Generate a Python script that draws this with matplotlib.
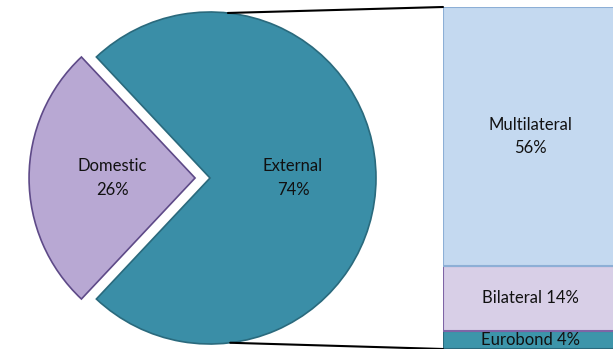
import numpy as np
import matplotlib.pyplot as plt
from matplotlib.patches import ConnectionPatch

# pie data
pie_names = ["Domestic", "External"]
pie_values = [26, 74]

# breakdown of external debt (bar), bottom to top
bar_names = ["Eurobond", "Bilateral", "Multilateral"]
bar_values = [4, 14, 56]

pie_colors = ["#B8A8D3", "#3A8EA7"]
pie_edges = ["#5E4A88", "#2A6A7D"]
bar_colors = ["#3D95AA", "#D8CFE7", "#C4D9F0"]
bar_edges = ["#2A6A7D", "#7E65A6", "#8DAFD6"]

plt.rcParams['font.family'] = ['Lato', 'DejaVu Sans']

W, H = 613, 349
fig = plt.figure(figsize=(W / 100, H / 100), dpi=100)

# pie axes: radius 1 == 166 px, centre at (210, 178) px from top-left
r_px = 166
cx, cy = 210, 178
lim = 1.1
ax_pie = fig.add_axes([(cx - lim * r_px) / W, (H - cy - lim * r_px) / H,
                       2 * lim * r_px / W, 2 * lim * r_px / H])
span0 = pie_values[0] / sum(pie_values) * 360
wedges, texts = ax_pie.pie(
    pie_values,
    labels=[f"{n}\n{v}%" for n, v in zip(pie_names, pie_values)],
    colors=pie_colors,
    explode=[0.09, 0],
    startangle=180 - span0 / 2,
    labeldistance=0.5,
    wedgeprops=dict(linewidth=1.2),
    textprops=dict(ha='center', va='center', fontsize=12, color='#111111',
                   linespacing=1.55),
)
for w, ec in zip(wedges, pie_edges):
    w.set_edgecolor(ec)
for t in texts:
    t.set_multialignment('center')
ax_pie.set_xlim(-lim, lim)
ax_pie.set_ylim(-lim, lim)
ax_pie.set_aspect('equal')
ax_pie.axis('off')

# bar axes
bar_left, bar_top = 443, 7
ax_bar = fig.add_axes([bar_left / W, 0, 175 / W, (H - bar_top) / H])
bottom = 0
for name, val, c, ec in zip(bar_names, bar_values, bar_colors, bar_edges):
    ax_bar.bar(0, val, bottom=bottom, width=1, color=c, edgecolor=ec, linewidth=1.5)
    label = f"{name}\n{val}%" if val > 30 else f"{name} {val}%"
    ax_bar.text(0, bottom + val / 2, label, ha='center', va='center', fontsize=12,
                color='#111111', multialignment='center', linespacing=1.55)
    bottom += val
ax_bar.set_xlim(-0.5, 0.5)
ax_bar.set_ylim(0, sum(bar_values))
ax_bar.axis('off')

# connector lines from top/bottom of the pie to the bar
for ang, ybar in [(83.8, sum(bar_values)), (-83.0, 0)]:
    p = (np.cos(np.radians(ang)), np.sin(np.radians(ang)))
    con = ConnectionPatch(xyA=p, coordsA=ax_pie.transData,
                          xyB=(-0.5, ybar), coordsB=ax_bar.transData,
                          color='black', linewidth=1.5)
    fig.add_artist(con)

fig.savefig("out.png", dpi=100)
